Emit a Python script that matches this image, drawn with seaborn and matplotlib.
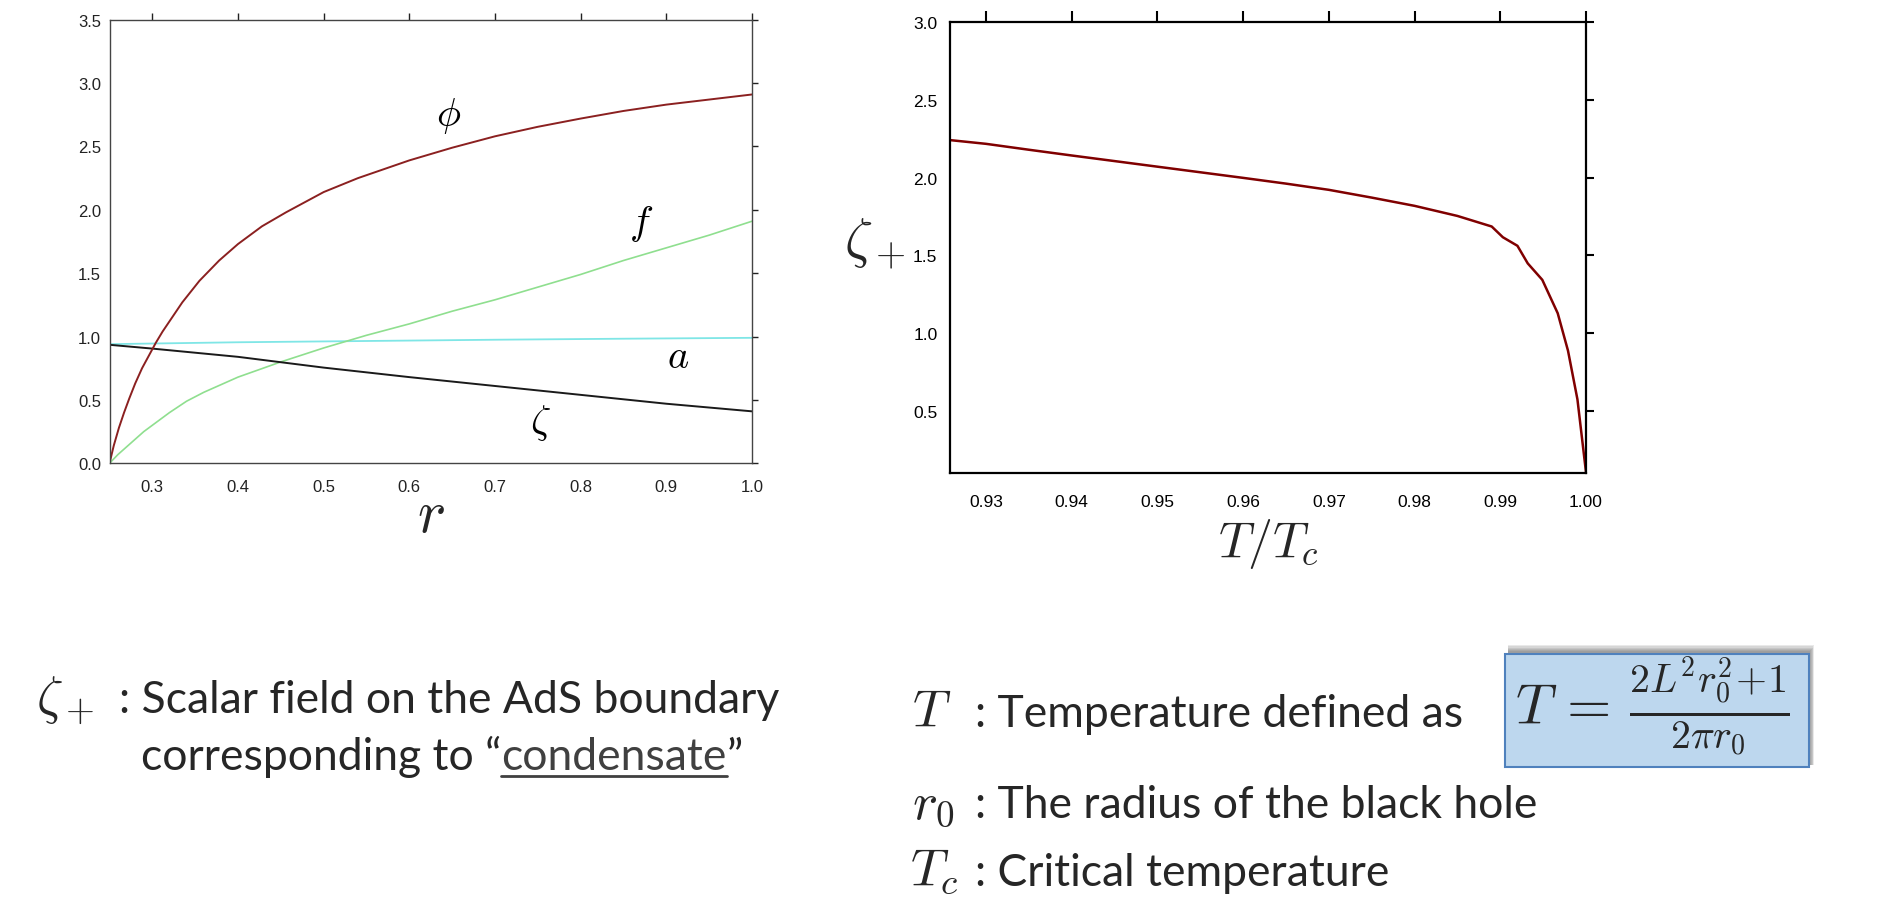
import numpy as np
import pandas as pd
import matplotlib
matplotlib.use("Agg")
import matplotlib.pyplot as plt
import seaborn as sns
from matplotlib.patches import Rectangle
from matplotlib.lines import Line2D
from matplotlib.ticker import FormatStrFormatter

# ---------------- data ----------------
r_phi = [0.25, 0.255, 0.261, 0.267, 0.273, 0.28, 0.288, 0.296, 0.304, 0.312, 0.32, 0.335,
         0.355, 0.378, 0.40, 0.428, 0.456, 0.50, 0.54, 0.60, 0.65, 0.70, 0.75, 0.80, 0.85,
         0.90, 0.95, 1.00]
phi = [0.0, 0.14, 0.28, 0.40, 0.51, 0.63, 0.75, 0.85, 0.95, 1.04, 1.12, 1.27,
       1.44, 1.60, 1.73, 1.87, 1.98, 2.14, 2.25, 2.39, 2.49, 2.58, 2.655, 2.72, 2.78,
       2.83, 2.87, 2.91]

r_f = [0.25, 0.26, 0.27, 0.28, 0.29, 0.30, 0.32, 0.34, 0.36, 0.38, 0.40, 0.45, 0.50,
       0.55, 0.60, 0.65, 0.70, 0.75, 0.80, 0.85, 0.90, 0.95, 1.00]
f_vals = [0.0, 0.07, 0.13, 0.19, 0.25, 0.30, 0.40, 0.49, 0.56, 0.62, 0.68, 0.80, 0.91,
          1.01, 1.10, 1.20, 1.29, 1.39, 1.49, 1.60, 1.70, 1.80, 1.91]

r_a = [0.25, 0.40, 0.55, 0.70, 0.85, 1.00]
a_vals = [0.940, 0.955, 0.965, 0.975, 0.983, 0.990]

r_zeta = [0.25, 0.30, 0.40, 0.50, 0.60, 0.70, 0.80, 0.90, 1.00]
zeta_vals = [0.935, 0.905, 0.84, 0.755, 0.68, 0.61, 0.54, 0.47, 0.41]

T_ratio = [0.9258, 0.93, 0.935, 0.94, 0.945, 0.95, 0.955, 0.96, 0.965, 0.97, 0.975,
           0.98, 0.985, 0.989, 0.9903, 0.992, 0.9932, 0.9949, 0.9967, 0.9979, 0.999, 1.0]
zeta_plus = [2.242, 2.218, 2.180, 2.143, 2.107, 2.071, 2.035, 1.999, 1.962, 1.922, 1.872,
             1.819, 1.754, 1.686, 1.617, 1.562, 1.449, 1.343, 1.128, 0.887, 0.574, 0.105]

left_xticks = [0.3, 0.4, 0.5, 0.6, 0.7, 0.8, 0.9, 1.0]
left_yticks = [0.0, 0.5, 1.0, 1.5, 2.0, 2.5, 3.0, 3.5]
right_xticks = [0.93, 0.94, 0.95, 0.96, 0.97, 0.98, 0.99, 1.00]
right_yticks = [0.5, 1.0, 1.5, 2.0, 2.5, 3.0]

curve_names = [r"$\phi$", r"$f$", r"$a$", r"$\zeta$"]

line1_sym = r"$\zeta_+$"
line1_txt = ": Scalar field on the AdS boundary"
line2_pre = "corresponding to \u201c"
line2_link = "condensate"
line2_post = "\u201d"
defs_sym = [r"$T$", r"$r_0$", r"$T_c$"]
defs_txt = [": Temperature defined as", ": The radius of the black hole", ": Critical temperature"]
formula = r"$T\,=\,\frac{2L^2r_0^2\!+\!1}{2\pi r_0}$"

# ---------------- style ----------------
sns.set_style("white")
plt.rcParams["font.family"] = ["Liberation Sans", "DejaVu Sans"]
plt.rcParams["mathtext.fontset"] = "cm"

W, H = 1889, 920
fig = plt.figure(figsize=(W / 100, H / 100), dpi=100)
fig.patch.set_facecolor("white")

def fx(px):
    return px / W

def fy(py):
    return 1 - py / H

# ---------------- left panel ----------------
ax1 = fig.add_axes([fx(109.5), fy(464.3), (752 - 109.5) / W, (464.3 - 20.7) / H])
df_phi = pd.DataFrame({"r": r_phi, "v": phi})
df_f = pd.DataFrame({"r": r_f, "v": f_vals})
df_a = pd.DataFrame({"r": r_a, "v": a_vals})
df_z = pd.DataFrame({"r": r_zeta, "v": zeta_vals})
sns.lineplot(data=df_a, x="r", y="v", ax=ax1, color="#7fe6e6", lw=1.3, estimator=None, sort=False)
sns.lineplot(data=df_f, x="r", y="v", ax=ax1, color="#8fdf8f", lw=1.2, estimator=None, sort=False)
sns.lineplot(data=df_z, x="r", y="v", ax=ax1, color="#1a1a1a", lw=1.4, estimator=None, sort=False)
sns.lineplot(data=df_phi, x="r", y="v", ax=ax1, color="#8b2020", lw=1.4, estimator=None, sort=False)
ax1.set_xlim(0.25, 1.0)
ax1.set_ylim(0.0, 3.5)
ax1.set_xticks(left_xticks)
ax1.set_yticks(left_yticks)
ax1.xaxis.set_major_formatter(FormatStrFormatter("%.1f"))
ax1.yaxis.set_major_formatter(FormatStrFormatter("%.1f"))
ax1.tick_params(axis="both", direction="out", top=True, right=True,
                labeltop=False, labelright=False, labelsize=12, colors="#222222",
                width=1.0, length=5)
ax1.tick_params(axis="y", pad=1.5, length=4.5)
ax1.tick_params(axis="x", pad=6)
for s in ax1.spines.values():
    s.set_color("#444444")
    s.set_linewidth(1.0)
ax1.set_ylabel("")
ax1.set_xlabel("$r$", fontsize=43, va="top")
ax1.xaxis.set_label_coords(0.5, -0.0555)
label_pos = [(0.646, 2.745), (0.870, 1.896), (0.914, 0.845), (0.753, 0.329)]
for name, (lx, ly) in zip(curve_names, label_pos):
    ax1.text(lx, ly, name, fontsize=29, ha="center", va="center", color="black")

# ---------------- right panel ----------------
ax2 = fig.add_axes([fx(950), fy(474), (1586 - 950) / W, (474 - 23.3) / H])
df_r = pd.DataFrame({"T": T_ratio, "z": zeta_plus})
sns.lineplot(data=df_r, x="T", y="z", ax=ax2, color="#800000", lw=1.8, estimator=None, sort=False)
ax2.set_xlim(0.9258, 1.0)
ax2.set_ylim(0.1, 3.0)
ax2.set_xticks(right_xticks)
ax2.set_yticks(right_yticks)
ax2.xaxis.set_major_formatter(FormatStrFormatter("%.2f"))
ax2.yaxis.set_major_formatter(FormatStrFormatter("%.1f"))
ax2.tick_params(axis="both", direction="out", top=True, right=True,
                labeltop=False, labelright=False, labelsize=12.5, colors="black", width=1.5)
ax2.tick_params(axis="y", length=6, pad=3)
ax2.tick_params(axis="x", length=8, pad=7)
for s in ax2.spines.values():
    s.set_color("black")
    s.set_linewidth(1.6)
ax2.set_xlabel(r"$T/T_c$", fontsize=36, va="top")
ax2.xaxis.set_label_coords(0.5, -0.0954)
ax2.set_ylabel(r"$\zeta_+$", fontsize=40, rotation=0, ha="right", va="center")
ax2.yaxis.set_label_coords(-0.071, 0.51)

# ---------------- bottom text ----------------
body = ["Lato", "DejaVu Sans"]
BS = 32
fig.canvas.draw()
renderer = fig.canvas.get_renderer()

fig.text(fx(36), fy(713), line1_sym, fontsize=38, ha="left", va="baseline")
fig.text(fx(119), fy(713), line1_txt, fontsize=BS, family=body, ha="left", va="baseline")

t_pre = fig.text(fx(141), fy(770), line2_pre, fontsize=BS, family=body, ha="left", va="baseline")
bb = t_pre.get_window_extent(renderer)
t_link = fig.text(bb.x1 / W, fy(770), line2_link, fontsize=BS, family=body, ha="left",
                  va="baseline", color="#404040")
bb2 = t_link.get_window_extent(renderer)
fig.text(bb2.x1 / W, fy(770), line2_post, fontsize=BS, family=body, ha="left", va="baseline")
fig.add_artist(Line2D([bb2.x0 / W, bb2.x1 / W], [fy(777), fy(777)], transform=fig.transFigure,
                      color="#404040", lw=2.0))

sym_x = [912, 912, 910]
base_y = [727, 818, 886]
for sym, txt, sx, by in zip(defs_sym, defs_txt, sym_x, base_y):
    fig.text(fx(sx), fy(by), sym, fontsize=38, ha="left", va="baseline")
    fig.text(fx(975), fy(by), txt, fontsize=BS, family=body, ha="left", va="baseline")

# formula box with soft shadow
bx0, bx1, by0, by1 = 1505, 1809, 655, 768
for k in range(7):
    off = 7 - k
    fig.add_artist(Rectangle((fx(bx0 + 3), fy(by1 - 2)), (bx1 - bx0 - 3 + off * 0.7) / W,
                             (by1 - by0 - 2 + off * 1.3) / H, transform=fig.transFigure,
                             facecolor="#505050", edgecolor="none", alpha=0.12))
fig.add_artist(Rectangle((fx(bx0), fy(by1)), (bx1 - bx0) / W, (by1 - by0) / H,
                         transform=fig.transFigure, facecolor="#bdd7ee",
                         edgecolor="#4f81bd", lw=1.5))
fig.text(fx(1652), fy(707), formula, fontsize=41, ha="center", va="center")

fig.savefig("out.png", dpi=100, facecolor="white")
